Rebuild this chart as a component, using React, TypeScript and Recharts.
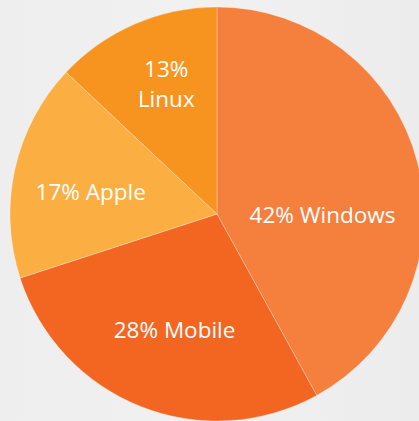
import React from "react";
import { PieChart, Pie, Cell } from "recharts";

const categories = ["Windows", "Mobile", "Apple", "Linux"];
const shares = [42, 28, 17, 13];
const colors = ["#F5803E", "#F36622", "#FBAF42", "#F7941F"];

const data = categories.map((name, i) => ({ name, value: shares[i] }));

// label placement relative to pie center, in fractions of outer radius (style only)
const labelOffsets: Record<string, { fx: number; fy: number; split: boolean }> = {
  Windows: { fx: 0.51, fy: 0.0, split: false },
  Mobile: { fx: -0.205, fy: 0.56, split: false },
  Apple: { fx: -0.61, fy: -0.11, split: false },
  Linux: { fx: -0.245, fy: -0.64, split: true },
};

const renderLabel = (props: any) => {
  const { cx, cy, outerRadius, name, value } = props;
  const o = labelOffsets[name];
  const x = cx + o.fx * outerRadius;
  const y = cy + o.fy * outerRadius;
  const style = {
    fill: "#ffffff",
    fontFamily: "'Open Sans', sans-serif",
    fontSize: 22.5,
  } as const;
  if (o.split) {
    return (
      <text x={x} y={y} textAnchor="middle" {...style}>
        <tspan x={x} dy="-0.2em">{`${value}%`}</tspan>
        <tspan x={x} dy="1.33em">{name}</tspan>
      </text>
    );
  }
  return (
    <text x={x} y={y} textAnchor="middle" dominantBaseline="central" {...style}>
      {`${value}% ${name}`}
    </text>
  );
};

export default function App() {
  return (
    <div
      style={{
        position: "absolute",
        left: 0,
        top: 0,
        width: 419,
        height: 421,
        overflow: "hidden",
        background: "linear-gradient(90deg, #eeeeee 0%, #f1f1f1 50%, #ececec 100%)",
      }}
    >
      <PieChart width={419} height={421} margin={{ top: 0, right: 0, bottom: 0, left: 0 }}>
        <Pie
          data={data}
          dataKey="value"
          nameKey="name"
          cx={217}
          cy={214}
          outerRadius={207}
          startAngle={90}
          endAngle={-270}
          stroke="rgba(255,255,255,0.35)"
          strokeWidth={0.8}
          label={renderLabel}
          labelLine={false}
          isAnimationActive={false}
        >
          {data.map((d, i) => (
            <Cell key={d.name} fill={colors[i]} />
          ))}
        </Pie>
      </PieChart>
    </div>
  );
}
